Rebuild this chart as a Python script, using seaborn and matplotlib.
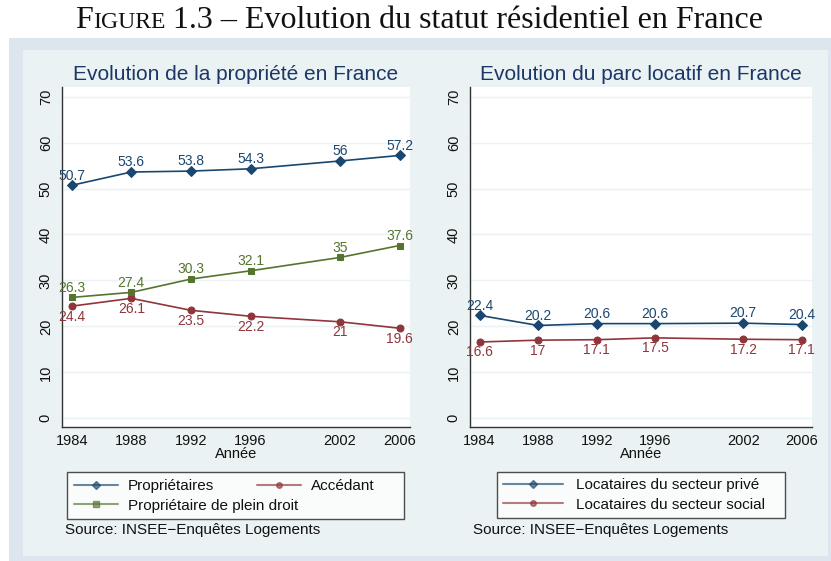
import matplotlib
matplotlib.use("Agg")
import matplotlib.pyplot as plt
import seaborn as sns
from matplotlib.lines import Line2D
from matplotlib.patches import Rectangle
from matplotlib.offsetbox import TextArea, HPacker, AnchoredOffsetbox

# data
years = [1984, 1988, 1992, 1996, 2002, 2006]
proprietaires = [50.7, 53.6, 53.8, 54.3, 56, 57.2]
accedant = [24.4, 26.1, 23.5, 22.2, 21, 19.6]
plein_droit = [26.3, 27.4, 30.3, 32.1, 35, 37.6]
loc_prive = [22.4, 20.2, 20.6, 20.6, 20.7, 20.4]
loc_social = [16.6, 17, 17.1, 17.5, 17.2, 17.1]
yticks = [0, 10, 20, 30, 40, 50, 60, 70]

NAVY = "#1a476f"
MAROON = "#90353b"
GREEN = "#55752f"
TITLE_C = "#1c3766"
AXIS_C = "#333333"

sns.set_style("white")
plt.rcParams["font.family"] = ["Liberation Sans", "DejaVu Sans"]

W, H = 831, 561
fig = plt.figure(figsize=(W / 100, H / 100), dpi=100)
fig.patch.set_facecolor("white")


def fx(px):
    return px / W


def fy(py):
    return 1 - py / H


# background regions
fig.add_artist(Rectangle((fx(9), 0), fx(W - 9), fy(38), transform=fig.transFigure,
                         facecolor="#dde5ef", edgecolor="none", zorder=-10))
fig.add_artist(Rectangle((fx(22.5), fy(556)), fx(828 - 22.5), (556 - 50) / H,
                         transform=fig.transFigure, facecolor="#eaf2f3",
                         edgecolor="none", zorder=-9))

ax1 = fig.add_axes([fx(62), fy(427), fx(410 - 62), (427 - 87) / H])
ax2 = fig.add_axes([fx(470), fy(427), fx(812 - 470), (427 - 87) / H])


def draw_series(ax, values, color, marker, msize, above):
    sns.lineplot(x=years, y=values, ax=ax, color=color, marker=marker,
                 markersize=msize, markeredgecolor=color, linewidth=1.2)
    for x, v in zip(years, values):
        ax.annotate(f"{v:g}", (x, v), xytext=(0, 7 if above else -7.5),
                    textcoords="offset points", ha="center", va="center",
                    fontsize=10, color=color)


draw_series(ax1, proprietaires, NAVY, "D", 5.2, True)
draw_series(ax1, accedant, MAROON, "o", 5, False)
draw_series(ax1, plein_droit, GREEN, "s", 5, True)
draw_series(ax2, loc_prive, NAVY, "D", 5.2, True)
draw_series(ax2, loc_social, MAROON, "o", 5, False)

titles = ["Evolution de la propriété en France", "Evolution du parc locatif en France"]
for ax, title in zip([ax1, ax2], titles):
    ax.set_facecolor("white")
    ax.set_xlim(1983.35, 2006.7)
    ax.set_ylim(-1.9, 72.1)
    ax.set_xticks(years)
    ax.set_yticks(yticks)
    ax.set_xticklabels([str(y) for y in years], fontsize=10.5, color="#111111")
    ax.set_yticklabels([str(t) for t in yticks], fontsize=10.5, color="#111111",
                       rotation=90, va="center")
    ax.grid(axis="y", color="#eaf2f3", linewidth=1.0)
    ax.grid(axis="x", visible=False)
    ax.set_axisbelow(True)
    for side in ["top", "right"]:
        ax.spines[side].set_visible(False)
    for side in ["left", "bottom"]:
        ax.spines[side].set_color(AXIS_C)
        ax.spines[side].set_linewidth(1.0)
    ax.tick_params(axis="both", length=3.6, width=1.0, color=AXIS_C, direction="out")
    ax.tick_params(axis="x", pad=1.5)
    ax.tick_params(axis="y", pad=3)
    ax.set_xlabel("Année", fontsize=10.5, color="#111111", labelpad=-1)
    ax.set_ylabel("")
    ax.set_title(title, fontsize=15, color=TITLE_C, pad=5)


def handle(color, marker):
    return Line2D([0], [0], color=color, alpha=0.65, linewidth=1.5, marker=marker,
                  markersize=4, markerfacecolor=color, markeredgecolor=color)


h_prop = handle(NAVY, "D")
h_acc = handle(MAROON, "o")
h_plein = handle(GREEN, "s")

fs = 11
leg_top = fy(472.3)
leg_h = (519.3 - 472.3) / H
common = dict(fontsize=fs, borderaxespad=0, labelspacing=0.35, handletextpad=0.65,
              labelcolor="#111111")

leg1 = fig.legend(handles=[h_prop, h_plein],
                  labels=["Propriétaires", "Propriétaire de plein droit"],
                  loc="upper left", bbox_to_anchor=(fx(66.7), leg_top - leg_h, fx(404 - 66.7), leg_h),
                  mode="expand", ncol=1, frameon=True, fancybox=False, borderpad=0.45,
                  handlelength=2.88, **common)
leg1.get_frame().set_edgecolor("#222222")
leg1.get_frame().set_linewidth(1.0)
leg1.get_frame().set_facecolor("white")

leg1b = fig.legend(handles=[h_acc], labels=["Accédant"], loc="upper left",
                   bbox_to_anchor=(fx(257 - 0.45 * fs * 100 / 72), leg_top),
                   frameon=False, borderpad=0.45, handlelength=2.88, **common)

leg2 = fig.legend(handles=[handle(NAVY, "D"), handle(MAROON, "o")],
                  labels=["Locataires du secteur privé", "Locataires du secteur social"],
                  loc="upper left", bbox_to_anchor=(fx(497), leg_top - leg_h, fx(785 - 497), leg_h),
                  mode="expand", ncol=1, frameon=True, fancybox=False, borderpad=0.4,
                  handlelength=3.9, **{**common, "handletextpad": 0.85})
leg2.get_frame().set_edgecolor("#222222")
leg2.get_frame().set_linewidth(1.0)
leg2.get_frame().set_facecolor("white")

fig.text(fx(65), fy(530), "Source: INSEE−Enquêtes Logements", fontsize=11,
         color="#111111", va="center", ha="left")
fig.text(fx(473), fy(530), "Source: INSEE−Enquêtes Logements", fontsize=11,
         color="#111111", va="center", ha="left")

# figure caption in small caps style
serif = dict(family=["Liberation Serif", "DejaVu Serif"], color="#111111")
parts = [TextArea("F", textprops=dict(fontsize=23, **serif)),
         TextArea("IGURE", textprops=dict(fontsize=17, **serif)),
         TextArea(" 1.3 – Evolution du statut résidentiel en France",
                  textprops=dict(fontsize=23, **serif))]
caption = HPacker(children=parts, align="baseline", pad=0, sep=0)
anchored = AnchoredOffsetbox(loc="center", child=caption, pad=0, borderpad=0, frameon=False,
                             bbox_to_anchor=(fx(419), fy(21)), bbox_transform=fig.transFigure)
fig.add_artist(anchored)

fig.savefig("out.png", dpi=100)
